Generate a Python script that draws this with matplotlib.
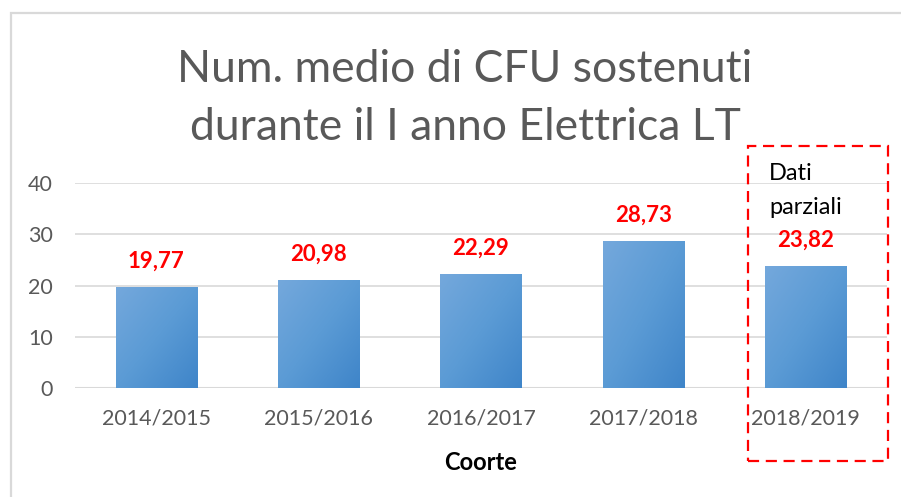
import matplotlib.pyplot as plt
import matplotlib.patches as mpatches
import numpy as np

coorti = ['2014/2015', '2015/2016', '2016/2017', '2017/2018', '2018/2019']
cfu = [19.77, 20.98, 22.29, 28.73, 23.82]
etichette = ['19,77', '20,98', '22,29', '28,73', '23,82']

W, H = 901, 497
fig = plt.figure(figsize=(W/100, H/100), dpi=100)
fig.patch.set_facecolor('white')

# bordo grigio del grafico
fig.add_artist(mpatches.Rectangle((11/W, -0.1), 1.2, (H-13)/H + 0.1, transform=fig.transFigure,
                                  fill=False, ec='#d9d9d9', lw=1.6))

ax = fig.add_axes([75/W, (H-388)/H, 812/W, (388-183)/H])
ax.set_xlim(-0.5, 4.5)
ax.set_ylim(0, 40)
ax.set_yticks([0, 10, 20, 30, 40])
ax.yaxis.grid(True, color='#d9d9d9', lw=1.2)
ax.set_axisbelow(True)
for s in ax.spines.values():
    s.set_visible(False)
ax.axhline(0, color='#d9d9d9', lw=2.2, zorder=1)
ax.tick_params(length=0, labelsize=15.5, colors='#595959')
ax.tick_params(axis='y', pad=16)
ax.tick_params(axis='x', pad=15)
ax.set_xticks(range(len(coorti)))
ax.set_xticklabels(coorti)
for lab in ax.get_xticklabels() + ax.get_yticklabels():
    lab.set_family('Lato')

# barre con sfumatura
grad = np.add.outer(np.linspace(0, 1, 50), np.linspace(0, 1, 50)) / 2
cmap = plt.matplotlib.colors.LinearSegmentedColormap.from_list('b', ['#74a8dc', '#5b9bd5', '#3f85c9'])
bars = ax.bar(range(len(coorti)), cfu, width=0.5, color='none', zorder=2)
for b in bars:
    x0, w, h = b.get_x(), b.get_width(), b.get_height()
    im = ax.imshow(grad, cmap=cmap, extent=[x0, x0 + w, 0, h], aspect='auto', zorder=2,
                   origin='upper', interpolation='bilinear')
    im.set_clip_path(b)
ax.set_xlim(-0.5, 4.5)
ax.set_ylim(0, 40)

for i, (v, t) in enumerate(zip(cfu, etichette)):
    ax.annotate(t, (i, v), xytext=(0, 11), textcoords='offset points', ha='center', va='bottom',
                color='#ff0000', fontweight='bold', fontsize=16, family='Lato')

fig.text(465/W, 1 - 70/H, 'Num. medio di CFU sostenuti', ha='center', va='center',
         fontsize=32, color='#595959', family='Lato')
fig.text(465/W, 1 - 128/H, 'durante il I anno Elettrica LT', ha='center', va='center',
         fontsize=32, color='#595959', family='Lato')

fig.text(481/W, 1 - 462/H, 'Coorte', ha='center', va='center', fontsize=17,
         fontweight='bold', color='black', family='Lato')

fig.text(769/W, 1 - 173/H, 'Dati', ha='left', va='center', fontsize=17, color='black', family='Lato')
fig.text(769/W, 1 - 207/H, 'parziali', ha='left', va='center', fontsize=17, color='black', family='Lato')

fig.add_artist(mpatches.Rectangle((748/W, 1 - 461/H), 140/W, 315/H, transform=fig.transFigure,
                                  fill=False, ec='#ff0000', lw=1.6, ls=(0, (5, 3))))

fig.savefig('out.png', dpi=100)
